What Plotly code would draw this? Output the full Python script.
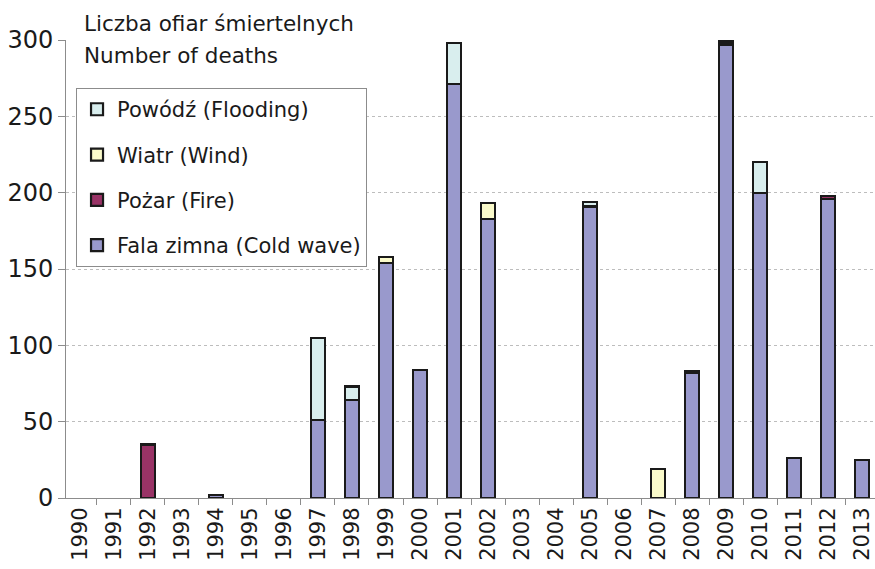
import plotly.graph_objects as go

# Deaths from extreme weather events in Poland, by year and cause
years = [str(y) for y in range(1990, 2014)]
cold_wave = [0, 0, 0, 0, 2, 0, 0, 51, 64, 154, 84, 271, 183, 0, 0, 191, 0, 0, 82, 297, 200, 26, 196, 25]
fire =      [0, 0, 35, 0, 0, 0, 0, 0, 0, 0, 0, 0, 0, 0, 0, 0, 0, 0, 1, 2, 0, 0, 2, 0]
wind =      [0, 0, 0, 0, 0, 0, 0, 0, 0, 4, 0, 0, 10, 0, 0, 0, 0, 19, 0, 0, 0, 0, 0, 0]
flooding =  [0, 0, 0, 0, 0, 0, 0, 54, 9, 0, 0, 27, 0, 0, 0, 3, 0, 0, 0, 0, 20, 0, 0, 0]

# (legend label, values, fill colour, legend position)
series = [
    ("Fala zimna (Cold wave)", cold_wave, "#9999cc", 4),
    ("Pożar (Fire)", fire, "#993366", 3),
    ("Wiatr (Wind)", wind, "#fbfbcb", 2),
    ("Powódź (Flooding)", flooding, "#d9eeee", 1),
]

fig = go.Figure()
for name, vals, color, rank in series:
    # empty years are left blank so no zero-height outline is drawn
    fig.add_trace(go.Bar(
        x=years, y=[v if v else None for v in vals], name=name,
        legendgroup=name, legendrank=rank,
        marker=dict(color=color, line=dict(color="#1a1a1a", width=2.2)),
        width=0.43,
    ))

font = "DejaVu Sans, Verdana, sans-serif"
fig.update_layout(
    barmode="stack",
    width=875, height=569,
    margin=dict(l=66, r=0, t=40, b=71),
    plot_bgcolor="white", paper_bgcolor="white",
    font=dict(family=font, color="#1a1a1a"),
    showlegend=True,
    legend=dict(
        x=0.0124, y=0.895, xanchor="left", yanchor="top",
        traceorder="grouped", tracegroupgap=15,
        bordercolor="#8c8c8c", borderwidth=1, bgcolor="white",
        font=dict(family=font, size=21, color="#1a1a1a"),
    ),
    xaxis=dict(
        type="category", range=[-0.41, 23.38],
        showline=True, linecolor="#8c8c8c", linewidth=1,
        ticks="outside", tickson="boundaries", ticklen=6, tickcolor="#8c8c8c",
        tickangle=-90, tickfont=dict(size=21, color="#1a1a1a"),
        showgrid=False,
    ),
    yaxis=dict(
        range=[0, 300], tickvals=[0, 50, 100, 150, 200, 250, 300],
        showline=True, linecolor="#8c8c8c", linewidth=1,
        ticks="outside", ticklen=7, tickcolor="#8c8c8c",
        tickfont=dict(size=24, color="#1a1a1a"),
        showgrid=True, gridcolor="#bdbdbd", griddash="dot", gridwidth=1,
        zeroline=False,
    ),
    annotations=[
        dict(text="Liczba ofiar śmiertelnych", xref="paper", yref="paper",
             x=(82 - 66) / 809, y=1 + (40 - 24) / 458, xanchor="left", yanchor="middle",
             showarrow=False, font=dict(family=font, size=21.5, color="#1a1a1a")),
        dict(text="Number of deaths", xref="paper", yref="paper",
             x=(82 - 66) / 809, y=1 - (56 - 40) / 458, xanchor="left", yanchor="middle",
             showarrow=False, font=dict(family=font, size=21.5, color="#1a1a1a")),
    ],
)

fig.write_html("out.html")
